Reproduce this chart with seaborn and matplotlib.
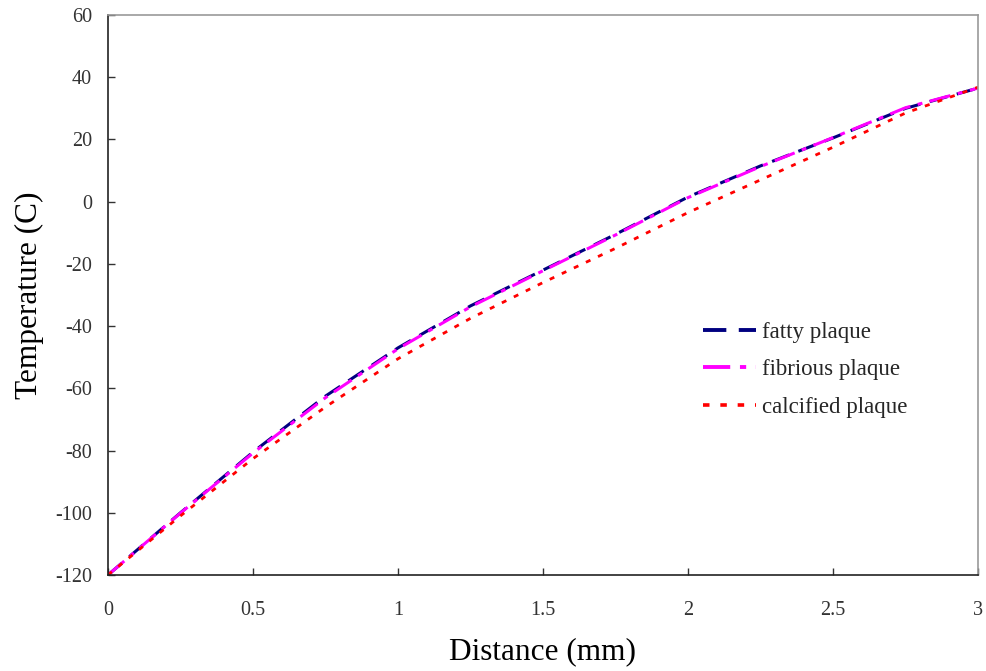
import matplotlib
matplotlib.use("Agg")
import matplotlib.pyplot as plt
import seaborn as sns
import pandas as pd

distance = [0, 0.25, 0.5, 0.75, 1.0, 1.25, 1.5, 1.75, 2.0, 2.25, 2.5, 2.75, 3.0]
fatty = [-120, -100, -80.5, -62.5, -47, -33.5, -22, -10.5, 1.5, 11.5, 20.5, 30, 36.5]
fibrious = [-120, -100.1, -80.8, -63, -47.3, -33.8, -22.2, -10.7, 1.3, 11.3, 20.6, 30.2, 36.5]
calcified = [-120, -101, -82.6, -66, -50.5, -37.5, -26, -15, -3.5, 7, 17.5, 28.5, 36.8]

labels = ["fatty plaque", "fibrious plaque", "calcified plaque"]
xticks = [0, 0.5, 1, 1.5, 2, 2.5, 3]
yticks = [-120, -100, -80, -60, -40, -20, 0, 20, 40, 60]

sns.set_theme(style="white")
plt.rcParams['font.family'] = ['Liberation Serif', 'DejaVu Serif']
plt.rcParams['axes.unicode_minus'] = False

fig = plt.figure(figsize=(9.87, 6.71), dpi=100)
ax = fig.add_axes([0.1094, 0.1431, 0.8815, 0.8345])

styles = [
    dict(color="#000080", dashes=(6, 3.2), lw=2.2),
    dict(color="#ff00ff", dashes=(7, 2.5, 1.6, 2.5), lw=2.2),
    dict(color="#ff0000", dashes=(1.8, 3.0), lw=2.0),
]
for ys, lab, st in zip([fatty, fibrious, calcified], labels, styles):
    df = pd.DataFrame({"x": distance, "y": ys})
    sns.lineplot(data=df, x="x", y="y", ax=ax, label=lab,
                 color=st["color"], linewidth=st["lw"])
    ax.lines[-1].set_dashes(st["dashes"])

ax.set_xlim(0, 3)
ax.set_ylim(-120, 60)
ax.set_xticks(xticks)
ax.set_xticklabels([f"{t:g}" for t in xticks])
ax.set_yticks(yticks)
ax.tick_params(direction="in", length=5, width=1, colors="#333333", labelsize=14.5,
               top=False, right=False, left=True, bottom=True)
ax.tick_params(axis="y", pad=11.5)
ax.tick_params(axis="x", pad=19)
for s in ["left", "bottom"]:
    ax.spines[s].set_color("#222222")
    ax.spines[s].set_linewidth(1.2)
for s in ["top", "right"]:
    ax.spines[s].set_color("#999999")
    ax.spines[s].set_linewidth(1.2)

ax.set_xlabel("Distance (mm)", fontsize=22.5, labelpad=12, color="black")
ax.set_ylabel("Temperature (C)", fontsize=22.5, labelpad=8, color="black")

leg = ax.legend(loc="upper left", bbox_to_anchor=(0.66, 0.489), frameon=False,
                fontsize=16.5, handlelength=2.3, handletextpad=0.3, labelspacing=0.72)
for h, st in zip(leg.get_lines(), styles):
    h.set_dashes(st["dashes"])
    h.set_linewidth(st["lw"] + 0.6)

fig.savefig("out.png", dpi=100)
